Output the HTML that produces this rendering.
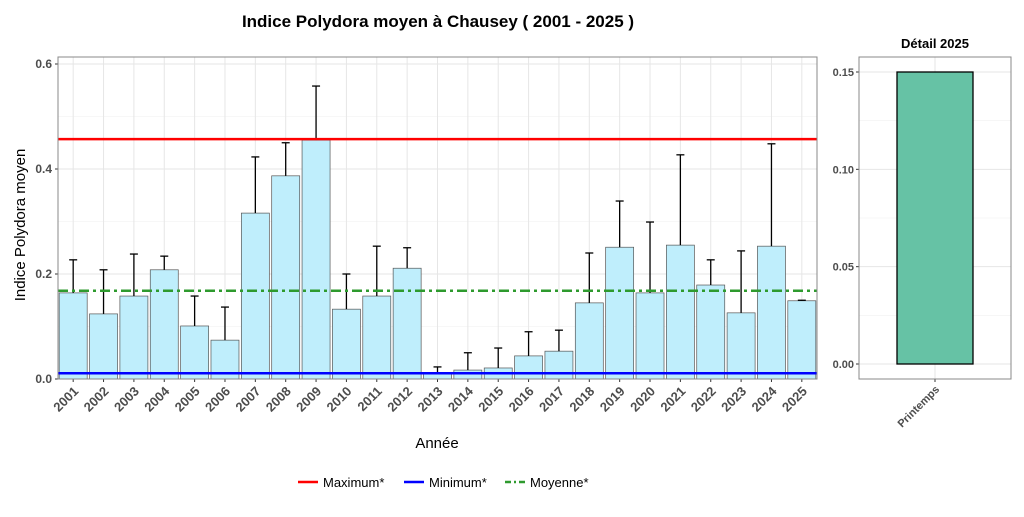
<!DOCTYPE html>
<html><head><meta charset="utf-8"><style>
body{margin:0;background:#fff;font-family:"Liberation Sans",sans-serif}
svg text{font-family:"Liberation Sans",sans-serif}
</style></head><body>
<svg id="c" width="1024" height="512" xmlns="http://www.w3.org/2000/svg">
<text x="438" y="27" font-size="17" font-weight="bold" text-anchor="middle">Indice Polydora moyen à Chausey ( 2001 - 2025 )</text>
<g id="main"></g>
<g id="side"></g>
<text x="437" y="448" font-size="15" text-anchor="middle">Année</text>
<text transform="translate(25,225) rotate(-90)" font-size="15" text-anchor="middle">Indice Polydora moyen</text>
<g>
<g><line x1="298" x2="318" y1="482" y2="482" stroke="#ff0000" stroke-width="2.5"/><text x="323" y="487" font-size="13">Maximum*</text></g>
<g><line x1="404" x2="424" y1="482" y2="482" stroke="#0000ff" stroke-width="2.5"/><text x="429" y="487" font-size="13">Minimum*</text></g>
<g><line x1="505" x2="525" y1="482" y2="482" stroke="#2e9a2e" stroke-width="2.5" stroke-dasharray="6,3,2,3"/><text x="530" y="487" font-size="13">Moyenne*</text></g>
</g>
</svg>
<script>
const years=["2001","2002","2003","2004","2005","2006","2007","2008","2009","2010","2011","2012","2013","2014","2015","2016","2017","2018","2019","2020","2021","2022","2023","2024","2025"];
const means=[0.164,0.124,0.158,0.208,0.101,0.074,0.316,0.387,0.455,0.133,0.158,0.211,0.011,0.017,0.021,0.044,0.053,0.145,0.251,0.164,0.255,0.179,0.126,0.253,0.149];
const errTops=[0.227,0.208,0.238,0.234,0.158,0.137,0.423,0.450,0.558,0.200,0.253,0.250,0.023,0.050,0.059,0.090,0.093,0.240,0.339,0.299,0.427,0.227,0.244,0.448,0.150];
const yTicks=[0,0.2,0.4,0.6];
const refMax=0.457, refMin=0.011, refMean=0.168;
const detailCats=["Printemps"];
const detailVals=[0.15];
const detailTicks=[0,0.05,0.10,0.15];

const NS="http://www.w3.org/2000/svg";
function mk(p,t,a){const e=document.createElementNS(NS,t);for(const k in a)e.setAttribute(k,a[k]);p.appendChild(e);return e;}
const main=document.getElementById('main');
const L=58,R=817,T=57,B=379;
const y=v=>379-v*525;
const step=(R-L)/years.length;
const x=i=>L+step*(i+0.5);
mk(main,'rect',{x:L,y:T,width:R-L,height:B-T,fill:'#fff'});
for(let v=0.1;v<0.65;v+=0.2){mk(main,'line',{x1:L,x2:R,y1:y(v),y2:y(v),stroke:'#f0f0f0','stroke-width':0.6});}
yTicks.forEach(v=>{
 mk(main,'line',{x1:L,x2:R,y1:y(v),y2:y(v),stroke:'#e6e6e6','stroke-width':1});
 const t=mk(main,'text',{x:L-6,y:y(v)+4,'font-size':12,'font-weight':'bold',fill:'#4d4d4d','text-anchor':'end'});
 t.textContent=v.toFixed(1);
 
 
 mk(main,'line',{x1:L-3,x2:L,y1:y(v),y2:y(v),stroke:'#333'});
});
years.forEach((yr,i)=>{
 mk(main,'line',{x1:x(i),x2:x(i),y1:T,y2:B,stroke:'#e6e6e6'});
});
years.forEach((yr,i)=>{
 const b=mk(main,'rect',{x:x(i)-14,y:y(means[i]),width:28,height:y(0)-y(means[i]),fill:'#bfeefc',stroke:'#555','stroke-width':0.7});
 
 
 const g=mk(main,'g',{stroke:'#000','stroke-width':1.3});
 
 
 mk(g,'line',{x1:x(i),x2:x(i),y1:y(means[i]),y2:y(errTops[i])});
 mk(g,'line',{x1:x(i)-4,x2:x(i)+4,y1:y(errTops[i]),y2:y(errTops[i])});
 mk(main,'line',{x1:x(i),x2:x(i),y1:B,y2:B+3,stroke:'#333'});
 const t=mk(main,'text',{transform:`translate(${x(i)+6},${B+13}) rotate(-45)`,'font-size':13,'font-weight':'bold',fill:'#4d4d4d','text-anchor':'end'});
 t.textContent=yr;
 
 
});
const lm=mk(main,'line',{x1:L,x2:R,y1:y(refMax),y2:y(refMax),stroke:'#ff0000','stroke-width':2.5});

const ln=mk(main,'line',{x1:L,x2:R,y1:y(refMin),y2:y(refMin),stroke:'#0000ff','stroke-width':2.5});

const la=mk(main,'line',{x1:L,x2:R,y1:y(refMean),y2:y(refMean),stroke:'#2e9a2e','stroke-width':2.5,'stroke-dasharray':'10,4,3,4'});

mk(main,'rect',{x:L,y:T,width:R-L,height:B-T,fill:'none',stroke:'#888','stroke-width':1});

const side=document.getElementById('side');
const SL=859,SR=1011;
const ys=v=>364-v*(292/0.15);
const st=mk(side,'text',{x:(SL+SR)/2,y:48,'font-size':13,'font-weight':'bold','text-anchor':'middle'});
st.textContent='Détail 2025';

mk(side,'rect',{x:SL,y:T,width:SR-SL,height:B-T,fill:'#fff'});
for(let v=0.025;v<0.17;v+=0.05)mk(side,'line',{x1:SL,x2:SR,y1:ys(v),y2:ys(v),stroke:'#f0f0f0','stroke-width':0.6});
detailTicks.forEach(v=>{
 mk(side,'line',{x1:SL,x2:SR,y1:ys(v),y2:ys(v),stroke:'#e6e6e6'});
 const t=mk(side,'text',{x:SL-5,y:ys(v)+4,'font-size':11,'font-weight':'bold',fill:'#4d4d4d','text-anchor':'end'});
 t.textContent=v.toFixed(2);
 
 mk(side,'line',{x1:SL-3,x2:SL,y1:ys(v),y2:ys(v),stroke:'#333'});
});
const dstep=(SR-SL)/detailCats.length;
detailCats.forEach((c,i)=>{
 const cx=SL+dstep*(i+0.5);
 mk(side,'line',{x1:cx,x2:cx,y1:T,y2:B,stroke:'#e6e6e6'});
 const b=mk(side,'rect',{x:cx-38,y:ys(detailVals[i]),width:76,height:ys(0)-ys(detailVals[i]),fill:'#66c2a5',stroke:'#000','stroke-width':1.3});
 
 mk(side,'line',{x1:cx,x2:cx,y1:B,y2:B+3,stroke:'#333'});
 const t=mk(side,'text',{transform:`translate(${cx+5},${B+11}) rotate(-45)`,'font-size':11,'font-weight':'bold',fill:'#4d4d4d','text-anchor':'end'});
 t.textContent=c;
 
});
mk(side,'rect',{x:SL,y:T,width:SR-SL,height:B-T,fill:'none',stroke:'#888','stroke-width':1});
</script>
</body></html>
